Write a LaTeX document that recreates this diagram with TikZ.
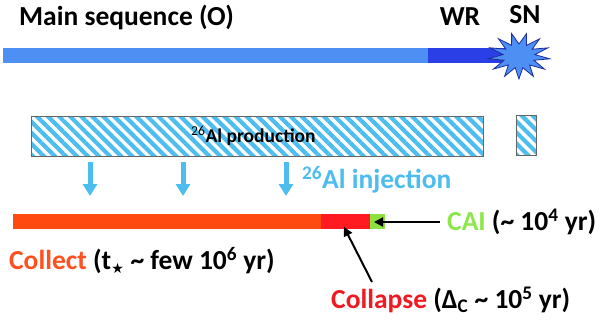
\documentclass[tikz,border=0pt]{standalone}
\usepackage{fontspec}
\setmainfont{Carlito}
\newfontfamily\symfont{DejaVu Sans}
\usetikzlibrary{arrows.meta,patterns.meta}
\definecolor{msblue}{HTML}{4D8FF2}
\definecolor{wrblue}{HTML}{2B3FE6}
\definecolor{hatchblue}{HTML}{4DBDF0}
\definecolor{orangebar}{HTML}{FF4A12}
\definecolor{redbar}{HTML}{FF1A22}
\definecolor{greenbar}{HTML}{8CE040}
\definecolor{orangetxt}{HTML}{FF5020}
\definecolor{redtxt}{HTML}{F01A22}
\definecolor{greentxt}{HTML}{8CE84A}
\tikzset{
  bigtxt/.style={font=\fontsize{27.5}{30}\selectfont\bfseries, inner sep=0pt},
  smalltxt/.style={font=\fontsize{19.5}{22}\selectfont\bfseries, inner sep=0pt},
  hatchbox/.style={draw=black!60, line width=0.8pt,
    pattern={Lines[angle=-45,distance=7.8pt,line width=4.2pt]}, pattern color=hatchblue},
  injarrow/.style={draw=hatchblue, line width=5pt, -{Triangle[width=14pt,length=12pt]}},
  ptr/.style={draw=black, line width=2pt, -{Triangle[width=9pt,length=9pt]}},
  bar/.style={inner sep=0pt, outer sep=0pt, draw=none, anchor=north west}
}
\begin{document}
\begin{tikzpicture}[x=1pt,y=-1pt]
\useasboundingbox[fill=white] (0,0) rectangle (600,322);
% main sequence bar
\fill[wrblue] (428,48) rectangle (505,63);
\fill[msblue] (3,48) rectangle (428,63);
% SN star
\filldraw[fill=msblue, draw=wrblue!70!black, line width=0.8pt]
  plot[samples at={0,...,25}, variable=\i]
  ({519+(iseven(\i) ? 31 : 16)*cos(\i*360/26+7)}, {56+(iseven(\i) ? 23 : 12)*sin(\i*360/26+7)}) -- cycle;
\node[bigtxt, anchor=west] (ms) at (19,17) {Main sequence (O)};
\node[bigtxt] (wr) at (460,17) {WR};
\node[bigtxt] (sn) at (525,15) {SN};
% production boxes
\draw[hatchbox] (31,116) rectangle (483,156);
\draw[hatchbox] (516,115) rectangle (536,155);
\node[smalltxt, anchor=west] (prod) at (191,136) {\textmd{\textsuperscript{26}}Al production};
% injection arrows
\coordinate (a1) at (90,162); \coordinate (b1) at (90,196);
\coordinate (a2) at (183,162); \coordinate (b2) at (183,196);
\coordinate (a3) at (286,162); \coordinate (b3) at (286,196);
\draw[injarrow] (a1) -- (b1);
\draw[injarrow] (a2) -- (b2);
\draw[injarrow] (a3) -- (b3);
\node[bigtxt, anchor=west, text=hatchblue] (inj) at (302,180) {\textsuperscript{26}Al injection};
% bottom bars
\node[bar, fill=orangebar, minimum width=308pt, minimum height=15pt] (collectbar) at (13,214) {};
\node[bar, fill=redbar, minimum width=49pt, minimum height=15pt] (collapsebar) at (321,214) {};
\node[bar, fill=greenbar, minimum width=15pt, minimum height=15pt] (caibar) at (370,214) {};
% labels
\node[bigtxt, anchor=west] (collect) at (9,261) {\textcolor{orangetxt}{Collect} (t\textsubscript{\symfont\fontsize{14}{14}\selectfont ★} \textasciitilde\ few 10\textsuperscript{6} yr)};
\node[bigtxt, anchor=west] (cai) at (447,222) {\textcolor{greentxt}{CAI} (\textasciitilde\ 10\textsuperscript{4} yr)};
\node[bigtxt, anchor=west] (collapse) at (331,300) {\textcolor{redtxt}{Collapse} (Δ\textsubscript{C} \textasciitilde\ 10\textsuperscript{5} yr)};
% pointers
\coordinate (caitail) at (440,222);
\coordinate (caitip) at (374,222);
\draw[ptr] (caitail) -- (caitip);
\coordinate (coltail) at (372,282);
\coordinate (coltip) at (344,227);
\draw[ptr] (coltail) -- (coltip);
\end{tikzpicture}
\end{document}
